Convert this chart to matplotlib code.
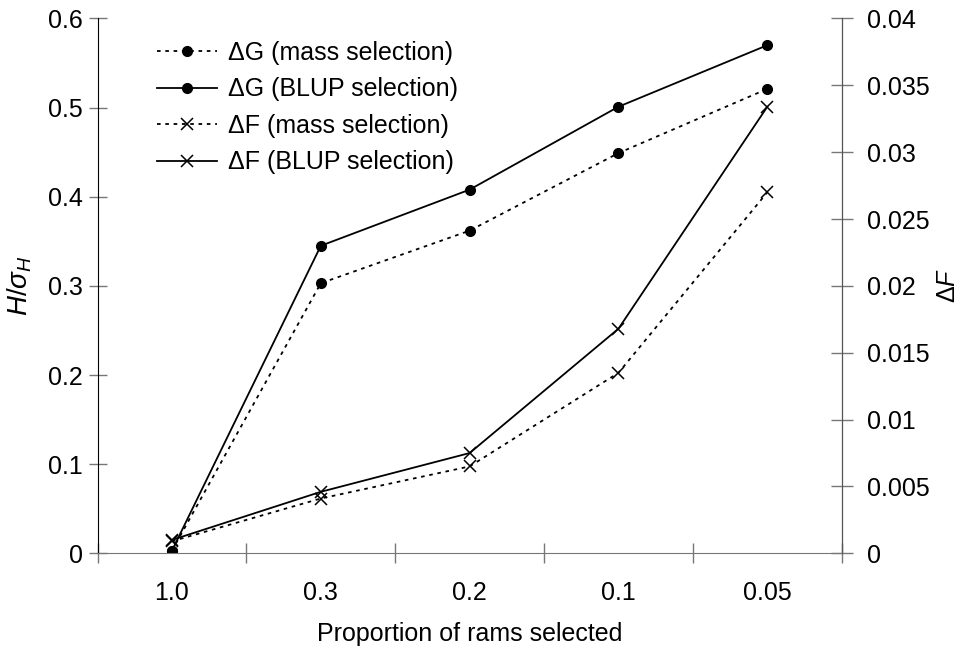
import matplotlib
matplotlib.use("Agg")
import matplotlib.pyplot as plt
from matplotlib.ticker import FixedLocator, NullFormatter, FixedFormatter

plt.rcParams['font.family'] = ['Liberation Sans', 'DejaVu Sans']
plt.rcParams['mathtext.fontset'] = 'custom'
plt.rcParams['mathtext.rm'] = 'Liberation Sans'
plt.rcParams['mathtext.it'] = 'Liberation Sans:italic'

categories = ["1.0", "0.3", "0.2", "0.1", "0.05"]
dG_mass = [0.003, 0.303, 0.362, 0.449, 0.521]
dG_blup = [0.003, 0.345, 0.408, 0.501, 0.570]
dF_mass = [0.0009, 0.0041, 0.0065, 0.0135, 0.0270]
dF_blup = [0.0010, 0.0046, 0.0075, 0.0168, 0.0334]
left_ticks = [0, 0.1, 0.2, 0.3, 0.4, 0.5, 0.6]
left_labels = ["0", "0.1", "0.2", "0.3", "0.4", "0.5", "0.6"]
right_ticks = [0, 0.005, 0.01, 0.015, 0.02, 0.025, 0.03, 0.035, 0.04]
right_labels = ["0", "0.005", "0.01", "0.015", "0.02", "0.025", "0.03", "0.035", "0.04"]

FS = 18
fig = plt.figure(figsize=(9.61, 6.48), dpi=100)
ax = fig.add_axes([0.1015, 0.1461, 0.7744, 0.8254])
ax2 = ax.twinx()

x = list(range(len(categories)))
dot = (0, (2.0, 2.6))
l1, = ax.plot(x, dG_mass, linestyle=dot, color='black', lw=1.3, marker='o', ms=7)
l2, = ax.plot(x, dG_blup, linestyle='-', color='black', lw=1.3, marker='o', ms=7)
l3, = ax2.plot(x, dF_mass, linestyle=dot, color='black', lw=1.3, marker='x', ms=9, mew=1.1)
l4, = ax2.plot(x, dF_blup, linestyle='-', color='black', lw=1.3, marker='x', ms=9, mew=1.1)

ax.set_xlim(-0.5, len(categories) - 0.5)
ax.set_ylim(0, 0.6)
ax2.set_ylim(0, 0.04)

ax.xaxis.set_major_locator(FixedLocator([i - 0.5 for i in range(len(categories) + 1)]))
ax.xaxis.set_major_formatter(NullFormatter())
ax.xaxis.set_minor_locator(FixedLocator(x))
ax.xaxis.set_minor_formatter(FixedFormatter(categories))
ax.tick_params(axis='x', which='major', direction='inout', length=15, color='#777777', width=1)
ax.tick_params(axis='x', which='minor', length=0, pad=20, labelsize=FS)

ax.yaxis.set_major_locator(FixedLocator(left_ticks))
ax.yaxis.set_major_formatter(FixedFormatter(left_labels))
ax.tick_params(axis='y', direction='inout', length=13, color='#777777', width=1, labelsize=FS, pad=4)

ax2.yaxis.set_major_locator(FixedLocator(right_ticks))
ax2.yaxis.set_major_formatter(FixedFormatter(right_labels))
ax2.tick_params(axis='y', direction='inout', length=16, color='#777777', width=1, labelsize=FS, pad=10)

for a in (ax, ax2):
    a.spines['top'].set_visible(False)
ax.spines['bottom'].set_color('#777777')
ax.spines['left'].set_color('black')
ax2.spines['left'].set_visible(False)
ax2.spines['bottom'].set_visible(False)
ax2.spines['right'].set_color('#555555')

ax.set_xlabel("Proportion of rams selected", fontsize=FS, labelpad=12)
ax.set_ylabel(r"$\mathit{H}/\mathit{\sigma}_{\mathit{H}}$", fontsize=FS + 2, labelpad=10)
ax2.set_ylabel(r"$\Delta\mathit{F}$", fontsize=FS, labelpad=5)

leg = ax.legend([l1, l2, l3, l4],
                ["\u0394G (mass selection)", "\u0394G (BLUP selection)",
                 "\u0394F (mass selection)", "\u0394F (BLUP selection)"],
                loc='upper left', bbox_to_anchor=(0.08, 0.958), frameon=False,
                fontsize=FS, handlelength=2.4, handletextpad=0.45, labelspacing=0.5,
                numpoints=1, borderaxespad=0, borderpad=0)

fig.savefig("out.png", dpi=100)
